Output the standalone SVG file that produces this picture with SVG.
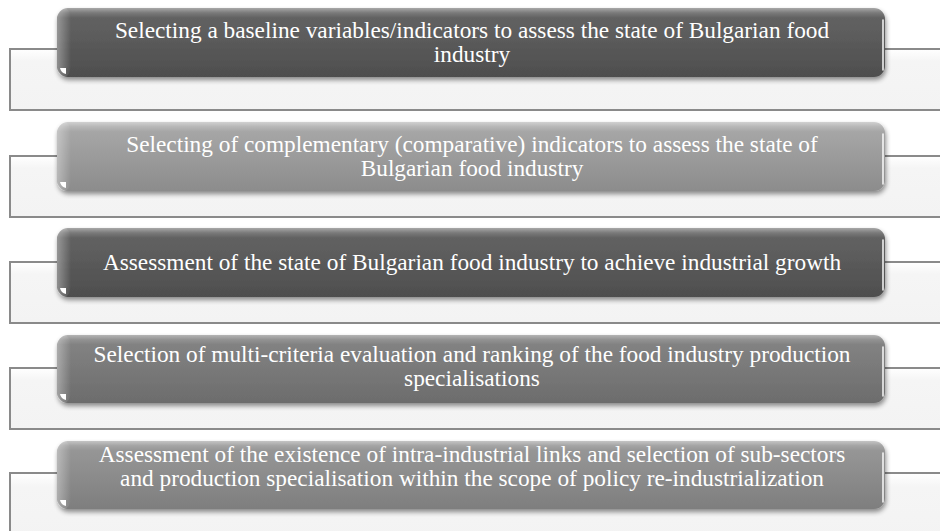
<svg xmlns="http://www.w3.org/2000/svg" width="940" height="531" viewBox="0 0 940 531">
  <defs>
    <style>
      .panel { fill: url(#panelFill); stroke: #8a8a8a; stroke-width: 2; }
      .bar { filter: url(#barShadow); }
      .edge { fill: none; stroke: #ffffff; stroke-width: 1.6; stroke-linecap: round; opacity: 0.9; }
      .label { font-family: "Liberation Serif", "Times New Roman", serif; font-size: 23.3px; fill: #ffffff; text-anchor: middle; }
    </style>
    <linearGradient id="panelFill" x1="0" y1="0" x2="0" y2="1">
      <stop offset="0" stop-color="#ffffff"/>
      <stop offset="0.2" stop-color="#f5f5f5"/>
      <stop offset="1" stop-color="#f3f3f3"/>
    </linearGradient>
    <linearGradient id="gDark" x1="0" y1="0" x2="0" y2="1">
      <stop offset="0" stop-color="#a8a8a8"/>
      <stop offset="0.07" stop-color="#7a7a7a"/>
      <stop offset="0.14" stop-color="#626262"/>
      <stop offset="1" stop-color="#4e4e4e"/>
    </linearGradient>
    <linearGradient id="gLight" x1="0" y1="0" x2="0" y2="1">
      <stop offset="0" stop-color="#d0d0d0"/>
      <stop offset="0.07" stop-color="#b6b6b6"/>
      <stop offset="0.14" stop-color="#a6a6a6"/>
      <stop offset="1" stop-color="#8c8c8c"/>
    </linearGradient>
    <linearGradient id="gMid" x1="0" y1="0" x2="0" y2="1">
      <stop offset="0" stop-color="#b4b4b4"/>
      <stop offset="0.07" stop-color="#929292"/>
      <stop offset="0.14" stop-color="#828282"/>
      <stop offset="1" stop-color="#6c6c6c"/>
    </linearGradient>
    <linearGradient id="gSoft" x1="0" y1="0" x2="0" y2="1">
      <stop offset="0" stop-color="#c4c4c4"/>
      <stop offset="0.07" stop-color="#a4a4a4"/>
      <stop offset="0.14" stop-color="#969696"/>
      <stop offset="1" stop-color="#7e7e7e"/>
    </linearGradient>
    <!-- soft bevel on the left end of each bar -->
    <linearGradient id="leftBevel" x1="0" y1="0" x2="1" y2="0">
      <stop offset="0" stop-color="#ffffff" stop-opacity="0.35"/>
      <stop offset="1" stop-color="#ffffff" stop-opacity="0"/>
    </linearGradient>
    <filter id="barShadow" x="-5%" y="-20%" width="110%" height="150%">
      <feGaussianBlur in="SourceAlpha" stdDeviation="2.5"/>
      <feOffset dx="1" dy="3" result="blur"/>
      <feComponentTransfer><feFuncA type="linear" slope="0.45"/></feComponentTransfer>
      <feMerge><feMergeNode/><feMergeNode in="SourceGraphic"/></feMerge>
    </filter>
  </defs>

  <rect width="940" height="531" fill="#ffffff"/>

  <g id="step1">
    <rect class="panel" x="10" y="49" width="940" height="61"/>
    <rect class="bar" x="57" y="8" width="828" height="69" rx="11" fill="url(#gDark)"/>
    <rect x="57" y="8" width="14" height="69" rx="11" fill="url(#leftBevel)"/>
    <path class="edge" d="M883 20 V70"/>
    <path d="M60 68 L66 68 L66 74 Q61 73 60 68 Z" fill="#ffffff"/>
    <text class="label" x="472" y="38">Selecting a baseline variables/indicators to assess the state of Bulgarian food</text>
    <text class="label" x="472" y="62">industry</text>
  </g>

  <g id="step2">
    <rect class="panel" x="10" y="156" width="940" height="61"/>
    <rect class="bar" x="57" y="122" width="828" height="69" rx="11" fill="url(#gLight)"/>
    <rect x="57" y="122" width="14" height="69" rx="11" fill="url(#leftBevel)"/>
    <path class="edge" d="M883 134 V184"/>
    <path d="M60 182 L66 182 L66 188 Q61 187 60 182 Z" fill="#ffffff"/>
    <text class="label" x="472" y="152">Selecting of complementary (comparative) indicators to assess the state of</text>
    <text class="label" x="472" y="176">Bulgarian food industry</text>
  </g>

  <g id="step3">
    <rect class="panel" x="10" y="262" width="940" height="61"/>
    <rect class="bar" x="57" y="228" width="828" height="69" rx="11" fill="url(#gDark)"/>
    <rect x="57" y="228" width="14" height="69" rx="11" fill="url(#leftBevel)"/>
    <path class="edge" d="M883 240 V290"/>
    <path d="M60 288 L66 288 L66 294 Q61 293 60 288 Z" fill="#ffffff"/>
    <text class="label" x="472" y="270">Assessment of the state of Bulgarian food industry to achieve industrial growth</text>
  </g>

  <g id="step4">
    <rect class="panel" x="10" y="368" width="940" height="61"/>
    <rect class="bar" x="57" y="335" width="828" height="68" rx="11" fill="url(#gMid)"/>
    <rect x="57" y="335" width="14" height="68" rx="11" fill="url(#leftBevel)"/>
    <path class="edge" d="M883 347 V396"/>
    <path d="M60 394 L66 394 L66 400 Q61 399 60 394 Z" fill="#ffffff"/>
    <text class="label" x="472" y="362">Selection of multi-criteria evaluation and ranking of the food industry production</text>
    <text class="label" x="472" y="386">specialisations</text>
  </g>

  <g id="step5">
    <rect class="panel" x="10" y="473" width="940" height="70"/>
    <rect class="bar" x="57" y="441" width="828" height="68" rx="11" fill="url(#gSoft)"/>
    <rect x="57" y="441" width="14" height="68" rx="11" fill="url(#leftBevel)"/>
    <path class="edge" d="M883 453 V502"/>
    <path d="M60 500 L66 500 L66 506 Q61 505 60 500 Z" fill="#ffffff"/>
    <text class="label" x="472" y="462">Assessment of the existence of intra-industrial links and selection of sub-sectors</text>
    <text class="label" x="472" y="486">and production specialisation within the scope of policy re-industrialization</text>
  </g>
</svg>
